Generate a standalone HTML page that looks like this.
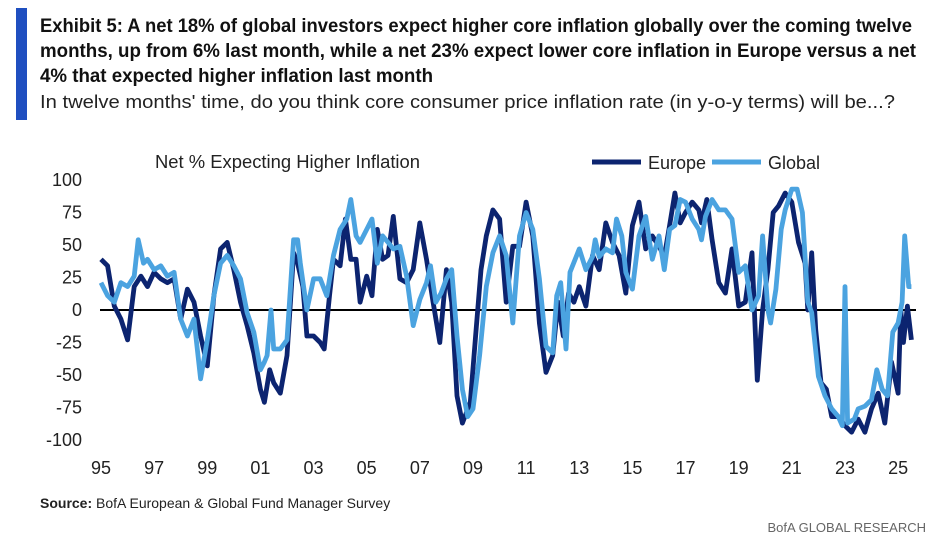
<!DOCTYPE html>
<html><head><meta charset="utf-8"><style>
body{margin:0;background:#fff;}
svg{display:block;font-family:"Liberation Sans",sans-serif;}
</style></head><body>
<svg id="c" width="940" height="550">
<rect x="16" y="8" width="11" height="112" fill="#1f4fc0"/>
<g font-weight="bold" font-size="19" fill="#111">
<text x="40" y="32" textLength="872" lengthAdjust="spacingAndGlyphs">Exhibit 5: A net 18% of global investors expect higher core inflation globally over the coming twelve</text>
<text x="40" y="57" textLength="876" lengthAdjust="spacingAndGlyphs">months, up from 6% last month, while a net 23% expect lower core inflation in Europe versus a net</text>
<text x="40" y="82" textLength="393" lengthAdjust="spacingAndGlyphs">4% that expected higher inflation last month</text>
</g>
<text x="40" y="108" font-size="18" fill="#222" textLength="855" lengthAdjust="spacingAndGlyphs">In twelve months' time, do you think core consumer price inflation rate (in y-o-y terms) will be...?</text>
<text x="155" y="168" font-size="18" fill="#222" textLength="265" lengthAdjust="spacingAndGlyphs">Net % Expecting Higher Inflation</text>
<g>
<line x1="592" y1="162" x2="641" y2="162" stroke="#0c2470" stroke-width="5"/>
<text x="648" y="169" font-size="18" fill="#222">Europe</text></g>
<g>
<line x1="712" y1="162" x2="761" y2="162" stroke="#4ba3e0" stroke-width="5"/>
<text x="768" y="169" font-size="18" fill="#222">Global</text></g>
<g id="yt"></g>
<g id="xt"></g>
<line id="zero" stroke="#000" stroke-width="2"/>
<g id="series"></g>
<text x="40" y="508" font-size="14" fill="#222"><tspan font-weight="bold">Source:</tspan> BofA European &amp; Global Fund Manager Survey</text>
<text x="926" y="532" font-size="13" fill="#666" text-anchor="end">BofA GLOBAL RESEARCH</text>
</svg>
<script>
const yTicks=[100,75,50,25,0,-25,-50,-75,-100];
const xTickYears=[1995,1997,1999,2001,2003,2005,2007,2009,2011,2013,2015,2017,2019,2021,2023,2025];
const xTickLabels=["95","97","99","01","03","05","07","09","11","13","15","17","19","21","23","25"];
const euYears=[1995.0,1995.25,1995.5,1995.75,1996,1996.25,1996.5,1996.75,1997,1997.25,1997.5,1997.75,1998,1998.25,1998.5,1998.75,1999,1999.25,1999.5,1999.75,2000,2000.25,2000.5,2000.75,2001,2001.15,2001.35,2001.5,2001.75,2002,2002.25,2002.4,2002.6,2002.75,2003,2003.25,2003.4,2003.6,2003.75,2004,2004.2,2004.4,2004.6,2004.75,2005,2005.2,2005.4,2005.6,2005.8,2006,2006.25,2006.5,2006.75,2007,2007.25,2007.5,2007.75,2008,2008.2,2008.4,2008.6,2008.9,2009.1,2009.3,2009.5,2009.75,2010,2010.25,2010.5,2010.75,2011,2011.25,2011.5,2011.75,2012,2012.2,2012.4,2012.6,2012.8,2013,2013.25,2013.5,2013.75,2014,2014.25,2014.5,2014.75,2015,2015.25,2015.5,2015.75,2016,2016.2,2016.4,2016.6,2016.8,2017,2017.25,2017.5,2017.6,2017.8,2018,2018.25,2018.5,2018.75,2019,2019.25,2019.5,2019.7,2019.9,2020.1,2020.3,2020.5,2020.75,2021,2021.25,2021.5,2021.6,2021.75,2021.9,2022.1,2022.3,2022.5,2022.75,2023,2023.25,2023.5,2023.75,2024,2024.25,2024.5,2024.75,2025,2025.1,2025.2,2025.35,2025.5];
const euValues=[39,34,3,-7,-23,18,26,18,29,24,21,24,-7,16,6,-20,-43,11,47,52,31,6,-12,-33,-61,-71,-46,-56,-64,-35,44,36,18,-20,-20,-25,-30,11,39,34,70,39,39,6,26,11,62,39,42,72,24,21,31,67,39,6,-25,31,6,-66,-87,-71,-20,31,57,77,70,6,49,49,83,57,-10,-48,-35,6,-20,13,6,18,3,42,31,67,52,42,13,65,83,47,57,49,41,65,90,67,75,83,77,67,85,54,21,13,47,3,6,44,-54,0,31,75,80,90,83,52,36,0,44,-15,-56,-61,-82,-82,-89,-94,-84,-94,-76,-64,-87,-40,-64,0,-25,3,-23];
const glYears=[1995.0,1995.25,1995.5,1995.75,1996,1996.25,1996.4,1996.6,1996.75,1997,1997.25,1997.5,1997.75,1998,1998.25,1998.5,1998.75,1999,1999.25,1999.5,1999.75,2000,2000.25,2000.5,2000.75,2001,2001.15,2001.25,2001.4,2001.5,2001.75,2002,2002.25,2002.4,2002.5,2002.75,2003,2003.25,2003.5,2003.75,2004,2004.25,2004.4,2004.6,2004.75,2005,2005.2,2005.4,2005.6,2005.8,2006,2006.25,2006.5,2006.75,2007,2007.25,2007.4,2007.6,2007.8,2008,2008.2,2008.4,2008.6,2008.8,2009,2009.25,2009.5,2009.75,2010,2010.25,2010.5,2010.75,2011,2011.25,2011.5,2011.75,2012,2012.15,2012.3,2012.5,2012.65,2013,2013.25,2013.5,2013.6,2013.75,2014,2014.25,2014.4,2014.6,2014.75,2015,2015.25,2015.5,2015.75,2016,2016.2,2016.4,2016.6,2016.8,2017,2017.25,2017.5,2017.6,2017.75,2018,2018.25,2018.5,2018.75,2019,2019.25,2019.5,2019.75,2019.9,2020.1,2020.2,2020.4,2020.6,2020.75,2021,2021.2,2021.4,2021.6,2021.75,2022,2022.25,2022.5,2022.75,2022.9,2023,2023.1,2023.35,2023.5,2023.75,2024,2024.2,2024.4,2024.6,2024.8,2025,2025.15,2025.25,2025.4,2025.5];
const glValues=[21,11,6,21,18,26,54,36,39,31,34,26,29,-7,-20,-7,-53,-23,11,36,42,34,24,-2,-17,-46,-40,-35,0,-30,-30,-23,54,54,36,0,24,24,11,42,62,70,85,57,52,62,70,36,57,52,47,49,26,-12,8,21,34,6,13,24,31,-20,-61,-82,-76,-35,18,44,57,42,-10,57,75,62,24,-28,-33,11,21,-30,29,47,31,41,54,41,47,44,70,57,29,16,57,72,39,57,31,62,65,85,83,70,62,54,72,85,77,77,70,29,34,0,11,57,0,-10,16,62,77,93,93,75,6,-2,-51,-66,-76,-82,-89,18,-87,-84,-76,-74,-69,-46,-61,-66,-17,-10,6,57,18,18];

const X0=101, PXY=26.57, Y0=310, PXV=1.3;
const xS=y=>X0+(y-1995)*PXY;
const yS=v=>Y0-v*PXV;
const NS="http://www.w3.org/2000/svg";
const yt=document.getElementById('yt');
yTicks.forEach(v=>{
  const t=document.createElementNS(NS,'text');
  
  
  t.setAttribute('x',82);t.setAttribute('y',yS(v)+6);
  t.setAttribute('text-anchor','end');t.setAttribute('font-size','18');t.setAttribute('fill','#222');
  t.textContent=v;yt.appendChild(t);
});
const xt=document.getElementById('xt');
xTickYears.forEach((yr,i)=>{
  const t=document.createElementNS(NS,'text');
  
  
  t.setAttribute('x',xS(yr));t.setAttribute('y',474);
  t.setAttribute('text-anchor','middle');t.setAttribute('font-size','18');t.setAttribute('fill','#222');
  t.textContent=xTickLabels[i];xt.appendChild(t);
});
const z=document.getElementById('zero');
z.setAttribute('x1',100);z.setAttribute('x2',916);z.setAttribute('y1',yS(0));z.setAttribute('y2',yS(0));
const sg=document.getElementById('series');
function draw(yrs,vals,color,name){
  const p=document.createElementNS(NS,'polyline');
  
  
  p.setAttribute('points',yrs.map((y,i)=>xS(y).toFixed(1)+','+yS(vals[i]).toFixed(1)).join(' '));
  p.setAttribute('fill','none');p.setAttribute('stroke',color);
  p.setAttribute('stroke-width','4.8');p.setAttribute('stroke-linejoin','round');
  sg.appendChild(p);
}
draw(euYears,euValues,'#0c2470','europe-line');
draw(glYears,glValues,'#4ba3e0','global-line');
</script>
</body></html>
